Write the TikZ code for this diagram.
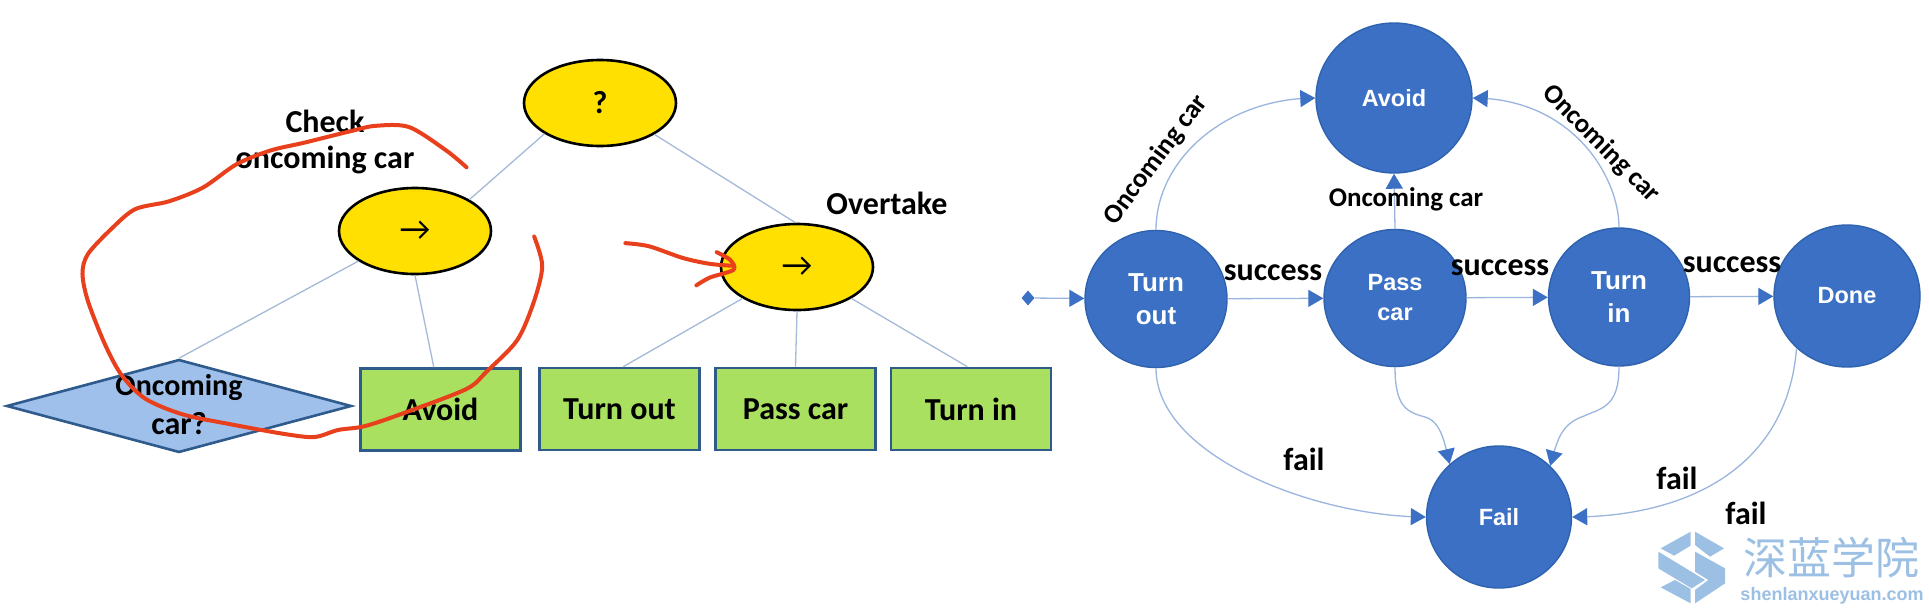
\documentclass[tikz,border=0pt]{standalone}
\usepackage{fontspec}
\setmainfont{Carlito}
\newfontfamily\cjkfont{Noto Sans CJK SC}
\newfontfamily\arialfont{Liberation Sans}
\usetikzlibrary{shapes.geometric,arrows.meta,calc,bending}
\definecolor{cyellow}{HTML}{FFE000}
\definecolor{cgreen}{HTML}{A9E05F}
\definecolor{cdia}{HTML}{A0C0EC}
\definecolor{cedge}{HTML}{2F5A8C}
\definecolor{cblue}{HTML}{3B70C4}
\definecolor{cborder}{HTML}{2F62AE}
\definecolor{cline}{HTML}{A5BAD8}
\definecolor{cflow}{HTML}{9AB5DE}
\definecolor{cred}{HTML}{E8401C}
\definecolor{cwm}{HTML}{9CC0E4}
\tikzset{
  yellownode/.style={ellipse,draw=black,line width=2.6pt,fill=cyellow,minimum width=152pt,minimum height=86pt,inner sep=0pt},
  taskbox/.style={rectangle,draw=cedge,line width=2.6pt,fill=cgreen,minimum width=160pt,minimum height=82pt,inner sep=0pt,font=\bfseries\fontsize{32}{34}\selectfont},
  condnode/.style={diamond,draw=cedge,line width=2.6pt,fill=cdia,minimum width=345pt,minimum height=93pt,inner sep=0pt,aspect=3.7},
  treeline/.style={draw=cline,line width=1.3pt},
  statenode/.style={ellipse,fill=cblue,draw=cborder,line width=1.4pt,text=white,inner sep=0pt,align=center},
  bigstate/.style={statenode,font=\arialfont\bfseries\fontsize{26}{32.4}\selectfont},
  smallstate/.style={statenode,font=\arialfont\bfseries\fontsize{23.5}{30}\selectfont},
  flowarrow/.style={draw=cflow,line width=1.3pt,-{Triangle[length=15pt,width=17pt,color=cblue]}},
  lab/.style={font=\bfseries\fontsize{32}{34}\selectfont,inner sep=0pt,align=center},
  smalllab/.style={font=\bfseries\fontsize{27}{29}\selectfont,inner sep=0pt,align=center},
  scribble/.style={draw=cred,line width=4pt,line cap=round,line join=round},
  arrowtext/.style={font=\fontsize{34}{36}\selectfont,inner sep=0pt},
  logopart/.style={fill=cwm,draw=none},
}
\begin{document}
\begin{tikzpicture}[x=1pt,y=-1pt]
\useasboundingbox (0,0) rectangle (1929,613);
\fill[white] (0,0) rectangle (1929,613);
% tree
\node[yellownode,font=\bfseries\fontsize{32}{34}\selectfont] (q) at (600,103) {?};
\node[yellownode,arrowtext] (s1) at (415,231) {→};
\node[yellownode,arrowtext] (s2) at (797,267) {→};
\node[condnode] (cond) at (179,406) {};
\node[taskbox] (ta) at (440.5,409.5) {Avoid};
\node[taskbox] (tb) at (619.5,409) {Turn out};
\node[taskbox] (tc) at (795.5,409) {Pass car};
\node[taskbox] (td) at (971,409) {Turn in};
\draw[treeline] (q.209) -- (s1.30);
\draw[treeline] (q.-30.6) -- (s2.92);
\draw[treeline] (s1.208) -- (cond.north);
\draw[treeline] (s1.270) -- (ta.99);
\draw[treeline] (s2.210) -- (tb.85);
\draw[treeline] (s2.270) -- (tc.north);
\draw[treeline] (s2.-30) -- (td.95);
\node[lab] (l1) at (325,121) {Check};
\node[lab] (l2) at (325,160) {oncoming car};
\node[lab] (l3) at (887,203) {Overtake};
\node[lab,font=\bfseries\fontsize{30}{32}\selectfont] (l4) at (179,388) {Oncoming};
\node[lab] (l5) at (179,424) {car?};
% states
\node[bigstate,minimum width=142pt,minimum height=137pt] (to) at (1156,299) {Turn\\out};
\node[smallstate,minimum width=142pt,minimum height=137pt] (pc) at (1395,298) {Pass\\car};
\node[bigstate,minimum width=141pt,minimum height=138pt] (ti) at (1619,297) {Turn\\in};
\node[smallstate,minimum width=146pt,minimum height=142pt] (dn) at (1847,296) {Done};
\node[smallstate,minimum width=156pt,minimum height=150pt] (av) at (1394,98) {Avoid};
\node[smallstate,minimum width=145pt,minimum height=142pt] (fl) at (1499,517) {Fail};
\node[diamond,fill=cblue,minimum width=13pt,minimum height=15pt,inner sep=0pt] (init) at (1028,298) {};
\coordinate (pm) at (1425,417);
\coordinate (tm) at (1584,416);
\draw[flowarrow] (init) -- (to);
\draw[flowarrow] (to) -- (pc);
\draw[flowarrow] (pc) -- (ti);
\draw[flowarrow] (ti) -- (dn);
\draw[flowarrow] (pc.north) -- (av.south);
\draw[flowarrow] (to.north) .. controls +(0,-70) and +(-90,0) .. (av.west);
\draw[flowarrow] (ti.north) .. controls +(0,-50) and +(100,0) .. (av.east);
\draw[flowarrow] (to.south) .. controls +(0,88) and +(-110,0) .. (fl.west);
\draw[flowarrow] (pc.south) .. controls +(0,40) and +(-18,-5) .. (pm) .. controls +(14,4) and +(-6,-28) .. (fl.133);
\draw[flowarrow] (ti.south) .. controls +(0,40) and +(18,-8) .. (tm) .. controls +(-22,8) and +(8,-30) .. (fl.45);
\draw[flowarrow] (dn.-134) .. controls +(-10,125) and +(107,0) .. (fl.east);
\node[smalllab,rotate=53] (o1) at (1156,160) {Oncoming car};
\node[smalllab,rotate=-45] (o2) at (1601,144) {Oncoming car};
\node[smalllab] (o3) at (1406,199) {Oncoming car};
\node[lab] (s1t) at (1273,273) {success};
\node[lab] (s2t) at (1500,268) {success};
\node[lab] (s3t) at (1732,265) {success};
\node[lab] (f1) at (1304,459) {fail};
\node[lab] (f2) at (1677,478) {fail};
\node[lab] (f3) at (1746,513) {fail};
% scribbles, in the zoom's scale
\begin{scope}[x=0.6761pt,y=-0.3909pt]
\draw[scribble] plot[smooth,tension=0.5] coordinates {(690,428)(660,385)(605,325)(555,322)(520,335)(450,365)(400,385)(350,420)(300,480)(250,515)(200,535)(165,585)(130,650)(122,700)(130,770)(155,880)(180,960)(215,1020)(270,1060)(340,1085)(420,1110)(465,1118)(500,1100)(540,1090)(600,1055)(690,995)(720,950)(765,870)(790,770)(802,680)(790,605)};
\draw[scribble] plot[smooth,tension=0.5] coordinates {(925,622)(960,630)(1010,660)(1050,675)(1085,680)};
\draw[scribble] plot[smooth,tension=0.5] coordinates {(1060,645)(1080,665)(1085,690)(1050,710)(1030,730)};
\end{scope}
% watermark
\begin{scope}[shift={(1650,525)},x=0.3333pt,y=-0.3333pt]
\fill[logopart] (122,20) -- (122,62) -- (72,92) -- (32,70) -- cycle;
\fill[logopart] (135,20) -- (222,70) -- (180,95) -- (135,60) -- cycle;
\fill[logopart] (25,80) -- (165,165) -- (125,190) -- (25,130) -- cycle;
\fill[logopart] (135,80) -- (225,130) -- (225,175) -- (135,235) -- (135,195) -- (175,165) -- (135,140) -- cycle;
\fill[logopart] (32,187) -- (75,165) -- (122,192) -- (122,235) -- cycle;
\end{scope}
\node[inner sep=0pt,text=cwm,font=\cjkfont\fontsize{44}{46}\selectfont] (wm1) at (1831,558) {深蓝学院};
\node[inner sep=0pt,text=cwm,font=\arialfont\bfseries\fontsize{18}{20}\selectfont] (wm2) at (1832,596) {shenlanxueyuan.com};
\end{tikzpicture}
\end{document}
